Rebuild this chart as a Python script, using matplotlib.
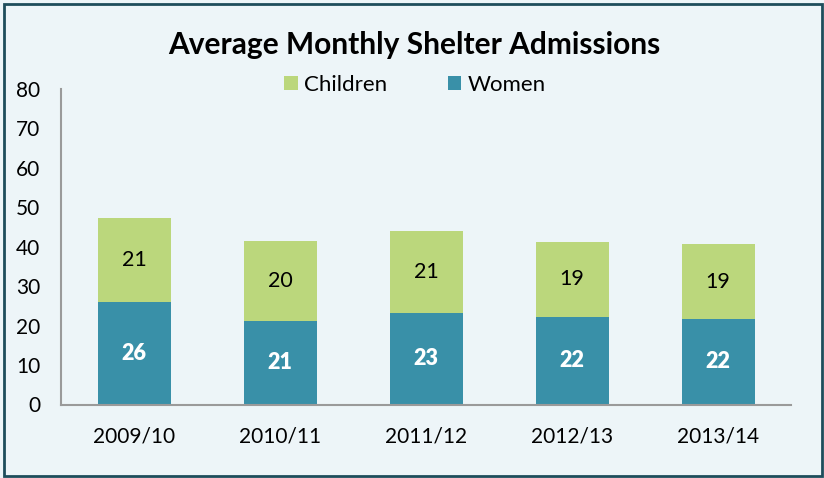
import matplotlib.pyplot as plt
from matplotlib.patches import Rectangle

# Daten
years = ["2009/10", "2010/11", "2011/12", "2012/13", "2013/14"]
women = [26.1, 21.2, 23.2, 22.2, 21.6]
children = [21.2, 20.3, 20.7, 19.1, 19.1]

green = "#BBD77C"
teal = "#3990A8"
bg = "#EDF5F8"

plt.rcParams['font.family'] = ['Lato', 'DejaVu Sans']

fig = plt.figure(figsize=(8.24, 4.78), dpi=100, facecolor=bg)
ax = fig.add_axes([61 / 824, 1 - 404.5 / 478, 730 / 824, 315.5 / 478])
ax.set_facecolor(bg)

x = range(len(years))
b1 = ax.bar(x, women, width=0.5, color=teal, label="Women")
b2 = ax.bar(x, children, width=0.5, bottom=women, color=green, label="Children")

# Beschriftungen in den Balken
for i in x:
    ax.text(i, women[i] / 2, f"{round(women[i])}", ha="center", va="center",
            color="white", fontsize=15.5, fontweight="heavy")
    ax.text(i, women[i] + children[i] / 2, f"{round(children[i])}", ha="center",
            va="center", color="black", fontsize=15.5)

ax.set_xlim(-0.5, 4.5)
ax.set_ylim(0, 80)
ax.set_yticks(range(0, 81, 10))
ax.set_xticks(list(x))
ax.set_xticklabels(years)
ax.tick_params(axis="y", length=0, pad=15, labelsize=15)
ax.tick_params(axis="x", length=0, pad=16, labelsize=15)
for s in ["top", "right"]:
    ax.spines[s].set_visible(False)
for s in ["left", "bottom"]:
    ax.spines[s].set_color("#9A9A9A")
    ax.spines[s].set_linewidth(1.5)

fig.text(414 / 824, 1 - 45 / 478, "Average Monthly Shelter Admissions",
         ha="center", va="center", fontsize=21.5, fontweight="bold")

fig.legend(handles=[b2, b1], labels=["Children", "Women"], loc="center",
           bbox_to_anchor=(415 / 824, 1 - 85 / 478), ncol=2, frameon=False,
           fontsize=16, handlelength=0.6, handleheight=0.6, handletextpad=0.3,
           columnspacing=2.7)

# Rahmen
fig.patches.append(Rectangle((4 / 824, 2 / 478), 818 / 824, 472 / 478,
                             transform=fig.transFigure, fill=False,
                             edgecolor="#1E4D5B", linewidth=2))

fig.savefig("out.png", dpi=100, facecolor=bg)
